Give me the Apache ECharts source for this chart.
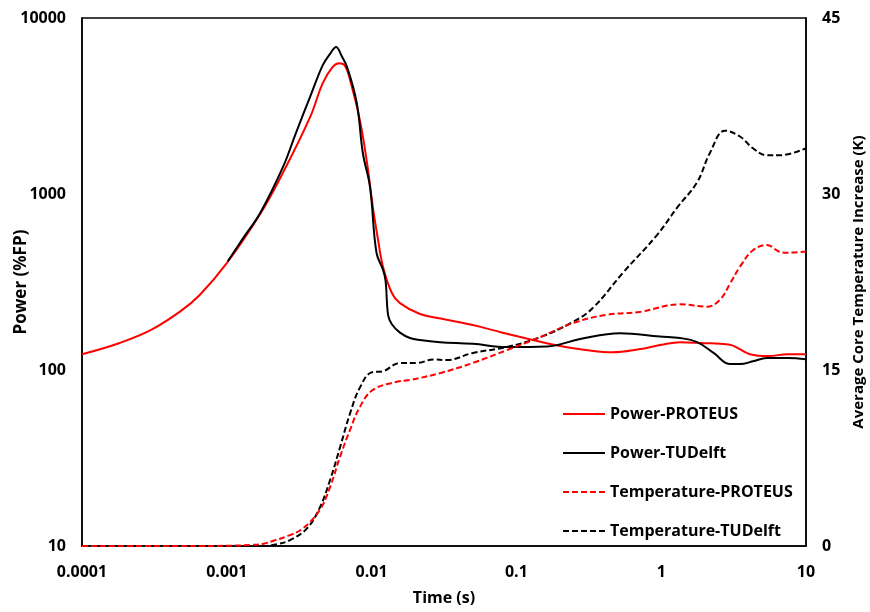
<!DOCTYPE html>
<html>
<head>
<meta charset="utf-8">
<script src="https://cdn.jsdelivr.net/npm/echarts@6/dist/echarts.min.js"></script>
<style>html,body{margin:0;padding:0;background:#fff}#c{width:870px;height:612px}</style>
</head>
<body>
<div id="c"></div>
<script>
// ---- data (time in s) ----
const xTickLabels = ['0.0001', '0.001', '0.01', '0.1', '1', '10'];
const yLeftTickLabels = ['10', '100', '1000', '10000'];
const yRightTicks = [0, 15, 30, 45];

const powerProteusT = [0.0001,0.00018,0.0003,0.00048,0.00065,0.001,0.0017,0.00244,0.00376,0.0046,0.00537,0.00595,0.0065,0.0071,0.0083,0.0093,0.0102,0.011,0.012,0.0138,0.0157,0.0216,0.03,0.05,0.08,0.13,0.2,0.3,0.46,0.7,1.0,1.35,2.0,2.55,3.1,4.1,5.5,7.5,10];
const powerProteusV = [123,142,169,216,267,405,770,1320,2735,4265,5260,5540,5400,4450,2630,1500,843,570,385,274,240,208,196,180,163,148,137,130,126,131,139,144,142,141,138,123,120,123,123];

const powerTudelftT = [0.001015,0.0013,0.0017,0.00244,0.003,0.00376,0.0046,0.0052,0.00568,0.0062,0.00677,0.0079,0.0087,0.00975,0.0108,0.012,0.0125,0.013,0.0138,0.0157,0.0184,0.0216,0.0297,0.05,0.086,0.163,0.275,0.52,0.98,1.35,1.77,2.3,3.0,3.5,4.3,5.37,7.5,10];
const powerTudelftV = [415,563,780,1420,2220,3560,5400,6300,6840,6100,5260,3290,1710,1097,465,370,320,205,182,163,152,148,144,141,135,136,150,162,155,152,144,125,108,108,112,117,117,115];

const tempProteusT = [0.0001,0.0005,0.001,0.0015,0.0018,0.0021,0.0027,0.00336,0.0044,0.00516,0.00605,0.0071,0.0083,0.0102,0.015,0.0184,0.03,0.05,0.086,0.146,0.246,0.42,0.71,1.35,2.07,2.55,3.0,3.5,4.3,5.37,6.5,7.4,10];
const tempProteusV = [0,0,0.02,0.1,0.2,0.45,0.9,1.5,3.1,5.0,7.6,9.9,11.85,13.3,14.0,14.15,14.75,15.6,16.7,17.8,19.0,19.7,19.95,20.6,20.4,21.0,22.4,23.8,25.2,25.65,25.1,25.0,25.1];

const tempTudelftT = [0.0001,0.001,0.0018,0.0022,0.00273,0.00358,0.0044,0.00516,0.00605,0.0071,0.0083,0.01,0.012,0.0157,0.0206,0.0266,0.033,0.05,0.086,0.146,0.246,0.338,0.545,0.935,1.3,1.77,2.17,2.76,3.5,4.3,5.37,6.6,10];
const tempTudelftV = [0,0,0,0.15,0.5,1.5,3.3,5.6,8.4,11.3,13.5,14.8,14.9,15.6,15.6,15.9,15.85,16.45,16.96,17.8,19.1,20.3,23.3,26.5,28.9,31.0,33.5,35.4,34.9,33.9,33.3,33.3,33.9];

function pairs(t, v) { return t.map((x, i) => [x, v[i]]); }
function decadeLabel(labels, base) {
  return function (val) {
    const k = Math.round(Math.log10(val)) - base;
    return labels[k] !== undefined ? labels[k] : '';
  };
}

const FONT = 'Open Sans';
const labelStyle = { color: '#000', fontWeight: 'bold', fontSize: 16, fontFamily: FONT };

const chart = echarts.init(document.getElementById('c'), null, { renderer: 'canvas' });
chart.setOption({
  animation: false,
  backgroundColor: '#fff',
  grid: { left: 82, right: 64, top: 18, bottom: 66, containLabel: false, outerBoundsMode: 'none', show: true, borderColor: '#000', borderWidth: 1.5, backgroundColor: 'transparent' },
  legend: {
    orient: 'vertical', left: 557, top: 401, itemWidth: 42, itemHeight: 14, itemGap: 23,
    itemStyle: { color: 'transparent', borderColor: 'transparent', borderWidth: 0, opacity: 0 },
    textStyle: { color: '#000', fontWeight: 'bold', fontSize: 16, fontFamily: FONT },
    data: ['Power-PROTEUS', 'Power-TUDelft', 'Temperature-PROTEUS', 'Temperature-TUDelft']
  },
  xAxis: {
    type: 'log', logBase: 10, min: 0.0001, max: 10, interval: 1,
    name: 'Time (s)', nameLocation: 'middle', nameGap: 44,
    nameTextStyle: { color: '#000', fontWeight: 'bold', fontSize: 16, fontFamily: FONT },
    axisLine: { show: true, lineStyle: { color: '#000', width: 1.5 } },
    axisTick: { show: false }, splitLine: { show: false }, minorTick: { show: false },
    axisLabel: { ...labelStyle, margin: 18, formatter: decadeLabel(xTickLabels, -4) }
  },
  yAxis: [
    {
      type: 'log', logBase: 10, min: 10, max: 10000, interval: 1,
      name: 'Power (%FP)', nameLocation: 'middle', nameGap: 52, nameRotate: 90, nameMoveOverlap: false,
      nameTextStyle: { color: '#000', fontWeight: 'bold', fontSize: 17, fontFamily: FONT },
      axisLine: { show: true, lineStyle: { color: '#000', width: 1.5 } },
      axisTick: { show: false }, splitLine: { show: false },
      axisLabel: { ...labelStyle, margin: 16, formatter: decadeLabel(yLeftTickLabels, 1) }
    },
    {
      type: 'value', min: yRightTicks[0], max: yRightTicks[yRightTicks.length - 1], interval: 15,
      position: 'right',
      name: 'Average Core Temperature Increase (K)', nameLocation: 'middle', nameGap: 44, nameRotate: 90,
      nameTextStyle: { color: '#000', fontWeight: 'bold', fontSize: 15, fontFamily: FONT },
      axisLine: { show: true, lineStyle: { color: '#000', width: 1.5 } },
      axisTick: { show: false }, splitLine: { show: false },
      axisLabel: { ...labelStyle, margin: 16 }
    }
  ],
  series: [
    { name: 'Power-PROTEUS', type: 'line', z: 5, yAxisIndex: 0, data: pairs(powerProteusT, powerProteusV), smooth: 0.4, symbol: 'none', lineStyle: { color: '#ff0000', width: 2 }, itemStyle: { color: '#ff0000' } },
    { name: 'Power-TUDelft', type: 'line', z: 5, yAxisIndex: 0, data: pairs(powerTudelftT, powerTudelftV), smooth: 0.4, symbol: 'none', lineStyle: { color: '#000000', width: 2 }, itemStyle: { color: '#000000' } },
    { name: 'Temperature-PROTEUS', type: 'line', z: 6, yAxisIndex: 1, data: pairs(tempProteusT, tempProteusV), smooth: 0.4, symbol: 'none', lineStyle: { color: '#ff0000', width: 2, type: [6, 3] }, itemStyle: { color: '#ff0000' } },
    { name: 'Temperature-TUDelft', type: 'line', z: 5, yAxisIndex: 1, data: pairs(tempTudelftT, tempTudelftV), smooth: 0.4, symbol: 'none', lineStyle: { color: '#000000', width: 2, type: [6, 3] }, itemStyle: { color: '#000000' } }
  ]
});
</script>
</body>
</html>
